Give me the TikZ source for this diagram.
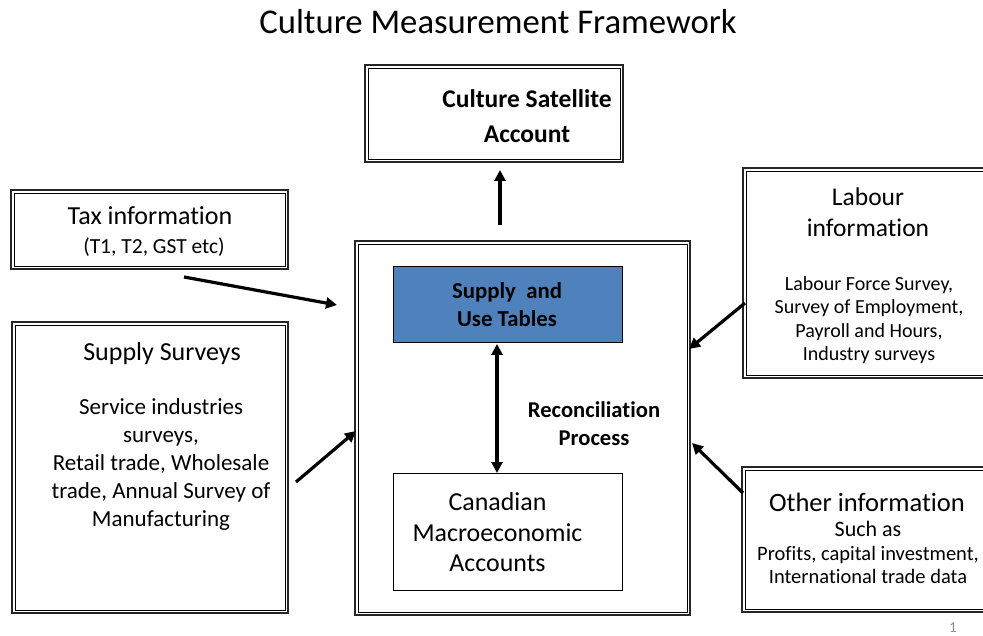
\documentclass[tikz,border=0pt]{standalone}
\usepackage{fontspec}
\setmainfont{Carlito}[Ligatures=NoCommon]
\usetikzlibrary{arrows.meta}
\definecolor{sutblue}{HTML}{4F81BD}
\definecolor{pagegray}{HTML}{8C8C8C}
\tikzset{
  x=1pt, y=-1pt,
  framebox/.style={draw=black, line width=0.8pt, inner sep=0pt, outer sep=0pt},
  outerframe/.style={draw=black!85, line width=1.8pt},
  plainbox/.style={draw=black, line width=0.9pt, inner sep=0pt, outer sep=0pt},
  txt/.style={align=center, inner sep=0pt},
  arr/.style={line width=3.2pt, -{Triangle[length=11pt,width=11pt]}},
  darr/.style={line width=3.2pt, {Triangle[length=11pt,width=11pt]}-{Triangle[length=11pt,width=11pt]}},
}
\newcommand{\fs}[2]{\fontsize{#1}{#2}\selectfont}
\begin{document}
\begin{tikzpicture}
\clip (0,0) rectangle (983,636);
\fill[white] (0,0) rectangle (983,636);

% title
\node[txt, font=\fs{34.7}{40}] (title) at (498,22) {Culture Measurement Framework};

% framed boxes (inner line)
\node[framebox, minimum width=252pt, minimum height=91pt] (csa) at (494,113.5) {};
\node[framebox, minimum width=271pt, minimum height=73pt] (tax) at (149.5,229.5) {};
\node[framebox, minimum width=270pt, minimum height=285pt] (supply) at (150,467.5) {};
\node[framebox, minimum width=329pt, minimum height=368pt] (central) at (522.5,428) {};
\node[framebox, minimum width=246pt, minimum height=204pt] (labour) at (869,273) {};
\node[framebox, minimum width=247pt, minimum height=139pt] (other) at (868.5,539.5) {};

% outer lines of the framed boxes
\foreach \n in {csa,tax,supply,central,labour,other}
  \draw[outerframe] ([xshift=-3pt,yshift=3pt]\n.north west) rectangle ([xshift=3pt,yshift=-3pt]\n.south east);

% inner boxes
\node[plainbox, fill=sutblue, minimum width=229pt, minimum height=76pt] (sut) at (507.5,304) {};
\node[plainbox, fill=white, minimum width=229pt, minimum height=117pt] (macro) at (507.5,531.5) {};

% texts
\node[txt, font=\bfseries\fs{25.5}{35}] (csaT) at (527,116.5) {Culture Satellite\\Account};
\node[txt, font=\fs{26}{30}] (taxT1) at (150,216) {Tax information};
\node[txt, font=\fs{21.5}{24}] (taxT2) at (154,247) {(T1, T2, GST etc)};
\node[txt, font=\fs{26}{30}] (supT1) at (162,354) {Supply Surveys};
\node[txt, font=\fs{23}{28}] (supT2) at (161,464) {Service industries\\surveys,\\Retail trade, Wholesale\\trade, Annual Survey of\\Manufacturing};
\node[txt, font=\bfseries\fs{22.8}{28}] (sutT) at (507,305) {Supply\ \ and\\Use Tables};
\node[txt, font=\bfseries\fs{22.6}{28}] (recT) at (594,424) {Reconciliation\\Process};
\node[txt, font=\fs{25.9}{30.5}] (macroT) at (497.5,532.5) {Canadian\\Macroeconomic\\Accounts};
\node[txt, font=\fs{25.5}{31}] (labT1) at (868,212.5) {Labour\\information};
\node[txt, font=\fs{20}{23.5}] (labT2) at (869,320) {Labour Force Survey,\\Survey of Employment,\\Payroll and Hours,\\Industry surveys};
\node[txt, font=\fs{26.5}{30}] (othT1) at (867,502) {Other information};
\node[txt, font=\fs{22}{26}] (othT2) at (868,529) {Such as};
\node[txt, font=\fs{20.5}{23}] (othT3) at (868,565) {Profits, capital investment,\\International trade data};
\node[txt, font=\fs{15}{17}, text=pagegray] (page) at (953,627.5) {1};

% connector end points
\coordinate (upS) at (500,225);
\coordinate (upE) at (500,170);
\coordinate (taxS) at (184,277);
\coordinate (taxE) at (337,305);
\coordinate (labS) at (745,303);
\coordinate (labE) at (689,349);
\coordinate (othS) at (743,493);
\coordinate (othE) at (692,443);
\coordinate (supS) at (296,482);
\coordinate (supE) at (356,431);
\coordinate (recS) at (497,344);
\coordinate (recE) at (497,473);

% connectors
\draw[arr] (upS) -- (upE);
\draw[arr] (taxS) -- (taxE);
\draw[arr] (labS) -- (labE);
\draw[arr] (othS) -- (othE);
\draw[arr] (supS) -- (supE);
\draw[darr] (recS) -- (recE);
\end{tikzpicture}
\end{document}
